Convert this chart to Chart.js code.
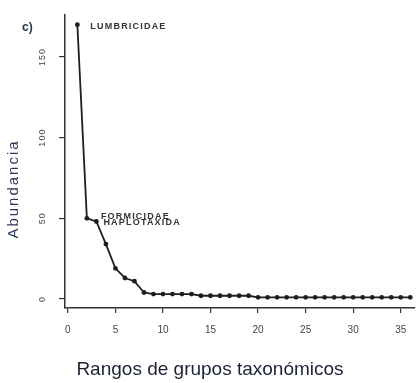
<!DOCTYPE html>
<html>
<head>
<meta charset="utf-8">
<script src="https://cdn.jsdelivr.net/npm/chart.js@4/dist/chart.umd.min.js"></script>
<style>
  html, body { margin: 0; padding: 0; background: #ffffff; }
  #wrap { width: 419px; height: 383px; position: relative; }
</style>
</head>
<body>
<div id="wrap"><canvas id="c" width="419" height="383"></canvas></div>
<script>
// Rank of each taxonomic group (1 = most abundant)
const ranks = [1, 2, 3, 4, 5, 6, 7, 8, 9, 10, 11, 12, 13, 14, 15, 16, 17, 18,
  19, 20, 21, 22, 23, 24, 25, 26, 27, 28, 29, 30, 31, 32, 33, 34, 35, 36];
// Abundance of the group at each rank
const abundance = [170, 50, 48, 34, 19, 13, 11, 4, 3, 3, 3, 3, 3, 2, 2, 2, 2, 2,
  2, 1, 1, 1, 1, 1, 1, 1, 1, 1, 1, 1, 1, 1, 1, 1, 1, 1];
const xTicks = [0, 5, 10, 15, 20, 25, 30, 35];
const yTicks = [0, 50, 100, 150];
// Group names written next to the leading ranks
const groupLabels = [
  { rank: 1, text: 'LUMBRICIDAE', dx: 13, dy: 2 },
  { rank: 2, text: 'FORMICIDAE', dx: 14, dy: -2 },
  { rank: 3, text: 'HAPLOTAXIDA', dx: 7, dy: 1 }
];

const points = ranks.map((r, i) => ({ x: r, y: abundance[i] }));

const tickColor = '#444444';

const decorations = {
  id: 'decorations',
  afterDraw(chart) {
    const ctx = chart.ctx;
    const xs = chart.scales.x, ys = chart.scales.y;
    ctx.save();
    // rotated y tick labels, reading upwards
    ctx.fillStyle = tickColor;
    ctx.font = '9px "Liberation Sans", Arial, sans-serif';
    ctx.textAlign = 'center';
    ctx.textBaseline = 'middle';
    ctx.letterSpacing = '1px';
    yTicks.forEach(v => {
      const py = ys.getPixelForValue(v);
      ctx.save();
      ctx.translate(43, py);
      ctx.rotate(-Math.PI / 2);
      ctx.fillText(String(v), 0, 0);
      ctx.restore();
    });
    // group names beside points
    ctx.fillStyle = '#333333';
    ctx.font = 'bold 9px "Liberation Sans", Arial, sans-serif';
    ctx.textAlign = 'left';
    ctx.letterSpacing = '1.2px';
    groupLabels.forEach(g => {
      const px = xs.getPixelForValue(g.rank);
      const py = ys.getPixelForValue(abundance[g.rank - 1]);
      ctx.fillText(g.text, px + g.dx, py + g.dy);
    });
    ctx.letterSpacing = '0px';
    // panel letter
    ctx.fillStyle = '#2a3550';
    ctx.font = 'bold 12px "Liberation Sans", Arial, sans-serif';
    ctx.fillText('c)', 22, 28);
    // axis titles
    ctx.fillStyle = '#2f3a5c';
    ctx.font = '15px "Liberation Sans", Arial, sans-serif';
    ctx.textAlign = 'center';
    ctx.letterSpacing = '2px';
    ctx.save();
    ctx.translate(14, 189);
    ctx.rotate(-Math.PI / 2);
    ctx.fillText('Abundancia', 0, 0);
    ctx.restore();
    ctx.letterSpacing = '0px';
    ctx.fillStyle = '#1c2236';
    ctx.font = '19px "Liberation Sans", Arial, sans-serif';
    ctx.fillText('Rangos de grupos taxonómicos', 210, 370);
    ctx.restore();
  }
};

new Chart(document.getElementById('c'), {
  type: 'scatter',
  data: {
    datasets: [{
      data: points,
      showLine: true,
      borderColor: '#1e1e1e',
      borderWidth: 1.8,
      backgroundColor: '#1e1e1e',
      pointRadius: 2.4,
      pointBorderWidth: 0,
      tension: 0
    }]
  },
  options: {
    responsive: false,
    animation: false,
    layout: { padding: { left: 0, right: 4, top: 15, bottom: 0 } },
    plugins: { legend: { display: false }, tooltip: { enabled: false } },
    scales: {
      x: {
        type: 'linear',
        min: -0.3,
        max: 36.5,
        afterBuildTicks(scale) { scale.ticks = xTicks.map(v => ({ value: v })); },
        afterFit(scale) { scale.height = 75; },
        border: { display: true, color: '#333333', width: 1.5 },
        grid: { display: true, drawOnChartArea: false, drawTicks: true, tickLength: 5, color: '#333333', lineWidth: 1.2 },
        ticks: {
          color: tickColor,
          font: { size: 10, family: '"Liberation Sans", Arial, sans-serif' },
          padding: 11,
          maxRotation: 0,
          autoSkip: false
        }
      },
      y: {
        type: 'linear',
        min: -5.6,
        max: 176,
        afterBuildTicks(scale) { scale.ticks = yTicks.map(v => ({ value: v })); },
        afterFit(scale) { scale.width = 65; },
        border: { display: true, color: '#333333', width: 1.5 },
        grid: { display: true, drawOnChartArea: false, drawTicks: true, tickLength: 6, color: '#333333', lineWidth: 1.2 },
        ticks: { display: false }
      }
    }
  },
  plugins: [decorations]
});
</script>
</body>
</html>
